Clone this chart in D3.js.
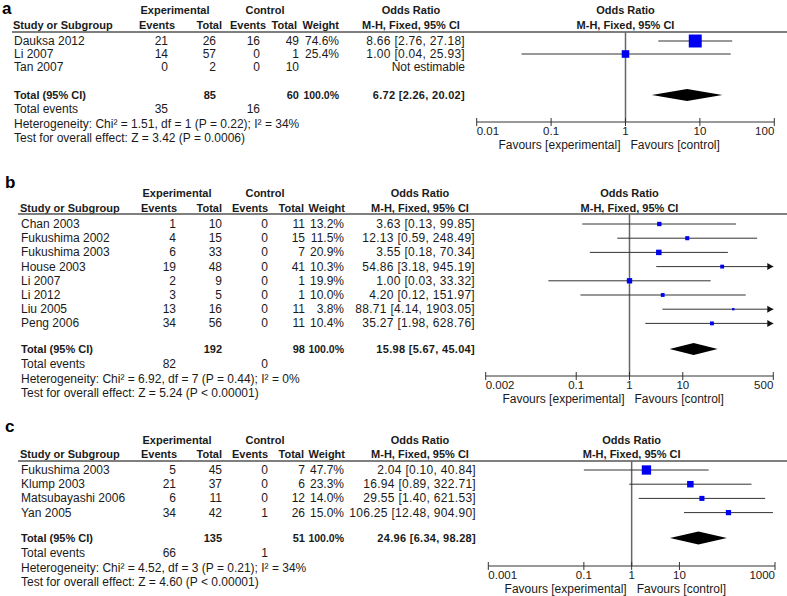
<!DOCTYPE html>
<html><head><meta charset="utf-8">
<script src="https://cdn.jsdelivr.net/npm/d3@7"></script>
<style>
body{margin:0;background:#fff}
text{font-family:"Liberation Sans",Arial,sans-serif;font-size:12px;fill:#1a1a1a}
text.b{font-weight:bold;font-size:11px}
text.or{letter-spacing:0.3px}
text.tk{font-size:11.5px}
text.pct{font-size:10.5px}
</style>
</head><body>
<svg id="chart" width="787" height="596"></svg>
<script>
// ---------- Panel a data ----------
const aStudies = ["Dauksa 2012", "Li 2007", "Tan 2007"];
const aExpEvents = [21, 14, 0];
const aExpTotal = [26, 57, 2];
const aCtrlEvents = [16, 0, 0];
const aCtrlTotal = [49, 1, 10];
const aWeight = [74.6, 25.4, null];
const aOR = [8.66, 1.00, null];
const aLow = [2.76, 0.04, null];
const aHigh = [27.18, 25.93, null];
const aPooled = [6.72, 2.26, 20.02];
const aTotals = [85, 60];
const aTotalEvents = [35, 16];
const aStats = ["Heterogeneity: Chi\u00b2 = 1.51, df = 1 (P = 0.22); I\u00b2 = 34%", "Test for overall effect: Z = 3.42 (P = 0.0006)"];
const aTicks = [0.01, 0.1, 1, 10, 100];

// ---------- Panel b data ----------
const bStudies = ["Chan 2003", "Fukushima 2002", "Fukushima 2003", "House 2003", "Li 2007", "Li 2012", "Liu 2005", "Peng 2006"];
const bExpEvents = [1, 4, 6, 19, 2, 3, 13, 34];
const bExpTotal = [10, 15, 33, 48, 9, 5, 16, 56];
const bCtrlEvents = [0, 0, 0, 0, 0, 0, 0, 0];
const bCtrlTotal = [11, 15, 7, 41, 1, 1, 11, 11];
const bWeight = [13.2, 11.5, 20.9, 10.3, 19.9, 10.0, 3.8, 10.4];
const bOR = [3.63, 12.13, 3.55, 54.86, 1.00, 4.20, 88.71, 35.27];
const bLow = [0.13, 0.59, 0.18, 3.18, 0.03, 0.12, 4.14, 1.98];
const bHigh = [99.85, 248.49, 70.34, 945.19, 33.32, 151.97, 1903.05, 628.76];
const bPooled = [15.98, 5.67, 45.04];
const bTotals = [192, 98];
const bTotalEvents = [82, 0];
const bStats = ["Heterogeneity: Chi\u00b2 = 6.92, df = 7 (P = 0.44); I\u00b2 = 0%", "Test for overall effect: Z = 5.24 (P < 0.00001)"];
const bTicks = [0.002, 0.1, 1, 10, 500];

// ---------- Panel c data ----------
const cStudies = ["Fukushima 2003", "Klump 2003", "Matsubayashi 2006", "Yan 2005"];
const cExpEvents = [5, 21, 6, 34];
const cExpTotal = [45, 37, 11, 42];
const cCtrlEvents = [0, 0, 0, 1];
const cCtrlTotal = [7, 6, 12, 26];
const cWeight = [47.7, 23.3, 14.0, 15.0];
const cOR = [2.04, 16.94, 29.55, 106.25];
const cLow = [0.10, 0.89, 1.40, 12.48];
const cHigh = [40.84, 322.71, 621.53, 904.90];
const cPooled = [24.96, 6.34, 98.28];
const cTotals = [135, 51];
const cTotalEvents = [66, 1];
const cStats = ["Heterogeneity: Chi\u00b2 = 4.52, df = 3 (P = 0.21); I\u00b2 = 34%", "Test for overall effect: Z = 4.60 (P < 0.00001)"];
const cTicks = [0.001, 0.1, 1, 10, 1000];

const headerTop = ["Experimental", "Control", "Odds Ratio"];
const headerCols = ["Study or Subgroup", "Events", "Total", "Events", "Total", "Weight", "M-H, Fixed, 95% CI"];
const favours = ["Favours [experimental]", "Favours [control]"];

const svg = d3.select("#chart");
const f2 = d3.format(".2f");

function drawPanel(label, L, D) {
  const g = svg.append("g");
  const x = d3.scaleLog().domain([D.ticks[0], D.ticks[D.ticks.length - 1]]).range([L.x0, L.x1]);
  const size = d3.scaleSqrt().domain([0, 100]).range([0, L.sqMax]);
  const rowY = i => L.row0 + i * L.step;
  const txt = (px, py, s, anchor, cls) => g.append("text")
    .attr("x", px).attr("y", py + 4).attr("text-anchor", anchor || "start")
    .attr("class", cls || null).text(s);

  g.append("text").attr("x", L.labelX).attr("y", L.labelY + 6)
    .style("font-size", "17px").style("font-weight", "bold").style("fill", "#000").text(label);

  // header row 1
  txt(L.expC, L.h1, headerTop[0], "middle", "b");
  txt(L.ctrlC, L.h1, headerTop[1], "middle", "b");
  txt(L.orC, L.h1, headerTop[2], "middle", "b");
  txt(x(1), L.h1, headerTop[2], "middle", "b");
  // header row 2
  txt(L.study, L.h2, headerCols[0], "start", "b");
  txt(L.cExpEv, L.h2, headerCols[1], "end", "b");
  txt(L.cExpTot, L.h2, headerCols[2], "end", "b");
  txt(L.cCtrlEv, L.h2, headerCols[3], "end", "b");
  txt(L.cCtrlTot, L.h2, headerCols[4], "end", "b");
  txt(L.cWeight, L.h2, headerCols[5], "end", "b");
  txt(L.orC, L.h2, headerCols[6], "middle", "b");
  txt(x(1), L.h2, headerCols[6], "middle", "b");

  g.append("line").attr("x1", L.lineX0).attr("x2", 787).attr("y1", L.line).attr("y2", L.line)
    .attr("stroke", "#555").attr("stroke-width", 1.5);

  // vertical line of no effect
  g.append("line").attr("x1", x(1)).attr("x2", x(1)).attr("y1", L.line).attr("y2", L.axisY)
    .attr("stroke", "#666").attr("stroke-width", 1.5);

  // study rows
  D.studies.forEach((s, i) => {
    const y = rowY(i);
    txt(L.study + 1, y, s);
    txt(L.nExpEv, y, D.expEv[i], "end");
    txt(L.nExpTot, y, D.expTot[i], "end");
    txt(L.nCtrlEv, y, D.ctrlEv[i], "end");
    txt(L.nCtrlTot, y, D.ctrlTot[i], "end");
    if (D.weight[i] != null) txt(L.nWeight, y, D.weight[i].toFixed(1) + "%", "end");
    if (D.or[i] != null) {
      txt(L.nOR, y, `${f2(D.or[i])} [${f2(D.lo[i])}, ${f2(D.hi[i])}]`, "end", "or");
      const [dmin, dmax] = x.domain();
      const lo = Math.max(D.lo[i], dmin), hi = Math.min(D.hi[i], dmax);
      g.append("line").attr("x1", x(lo)).attr("x2", x(hi)).attr("y1", y).attr("y2", y)
        .attr("stroke", "#333").attr("stroke-width", 1);
      if (D.hi[i] > dmax) {
        const xe = x(dmax);
        g.append("path").attr("d", `M${xe},${y} L${xe - 6},${y - 3.5} L${xe - 6},${y + 3.5} Z`).attr("fill", "#111");
      }
      if (D.lo[i] < dmin) {
        const xs = x(dmin);
        g.append("path").attr("d", `M${xs},${y} L${xs + 6},${y - 3.5} L${xs + 6},${y + 3.5} Z`).attr("fill", "#111");
      }
      const s2 = size(D.weight[i]);
      g.append("rect").attr("x", x(D.or[i]) - s2 / 2).attr("y", y - s2 / 2)
        .attr("width", s2).attr("height", s2).attr("fill", "#0000f0");
    } else {
      txt(L.nOR, y, "Not estimable", "end");
    }
  });

  // totals
  txt(L.study + 1, L.totY, "Total (95% CI)", "start", "b");
  txt(L.nExpTot, L.totY, D.totals[0], "end", "b");
  txt(L.nCtrlTot, L.totY, D.totals[1], "end", "b");
  txt(L.nWeight, L.totY, "100.0%", "end", "b pct");
  txt(L.nOR, L.totY, `${f2(D.pooled[0])} [${f2(D.pooled[1])}, ${f2(D.pooled[2])}]`, "end", "b or");
  const [po, pl, ph] = D.pooled;
  g.append("path")
    .attr("d", `M${x(pl)},${L.totY} L${x(po)},${L.totY - L.dh} L${x(ph)},${L.totY} L${x(po)},${L.totY + L.dh} Z`)
    .attr("fill", "#000");

  txt(L.study + 1, L.evY, "Total events");
  txt(L.nExpEv, L.evY, D.totalEvents[0], "end");
  txt(L.nCtrlEv, L.evY, D.totalEvents[1], "end");
  txt(L.study + 1, L.hetY, D.stats[0]);
  txt(L.study + 1, L.testY, D.stats[1]);

  // axis
  g.append("line").attr("x1", x.range()[0]).attr("x2", x.range()[1]).attr("y1", L.axisY).attr("y2", L.axisY)
    .attr("stroke", "#333").attr("stroke-width", 1);
  D.ticks.forEach((t, k) => {
    g.append("line").attr("x1", x(t)).attr("x2", x(t)).attr("y1", L.axisY - 4).attr("y2", L.axisY + 4)
      .attr("stroke", "#333").attr("stroke-width", 1);
    const anchor = k === 0 ? "start" : (k === D.ticks.length - 1 ? "end" : "middle");
    txt(x(t), L.tickY, String(t), anchor, "tk");
  });
  txt(x(1) - 5, L.favY, favours[0], "end");
  txt(x(1) + 5, L.favY, favours[1], "start");
}

drawPanel("a", {
  labelX: 2, labelY: 8, h1: 10, h2: 25, line: 32, lineX0: 12,
  study: 13, expC: 175, ctrlC: 265, orC: 411,
  cExpEv: 175, cExpTot: 222, cCtrlEv: 266, cCtrlTot: 297, cWeight: 339,
  nExpEv: 168, nExpTot: 216, nCtrlEv: 260, nCtrlTot: 299, nWeight: 339, nOR: 465,
  row0: 41, step: 13, totY: 95, evY: 109, hetY: 124, testY: 138,
  x0: 476.7, x1: 774.3, axisY: 122, tickY: 131, favY: 144.5, sqMax: 15, dh: 6
}, {studies: aStudies, expEv: aExpEvents, expTot: aExpTotal, ctrlEv: aCtrlEvents, ctrlTot: aCtrlTotal,
    weight: aWeight, or: aOR, lo: aLow, hi: aHigh, pooled: aPooled, totals: aTotals,
    totalEvents: aTotalEvents, stats: aStats, ticks: aTicks});

drawPanel("b", {
  labelX: 5, labelY: 182, h1: 193, h2: 208, line: 214, lineX0: 18,
  study: 20, expC: 177, ctrlC: 265, orC: 420,
  cExpEv: 177, cExpTot: 222, cCtrlEv: 268, cCtrlTot: 304, cWeight: 345,
  nExpEv: 176, nExpTot: 222, nCtrlEv: 268, nCtrlTot: 305, nWeight: 344, nOR: 475,
  row0: 224, step: 14.2, totY: 349, evY: 364, hetY: 379, testY: 393,
  x0: 485.7, x1: 773.3, axisY: 376, tickY: 385, favY: 399, sqMax: 12, dh: 6
}, {studies: bStudies, expEv: bExpEvents, expTot: bExpTotal, ctrlEv: bCtrlEvents, ctrlTot: bCtrlTotal,
    weight: bWeight, or: bOR, lo: bLow, hi: bHigh, pooled: bPooled, totals: bTotals,
    totalEvents: bTotalEvents, stats: bStats, ticks: bTicks});

drawPanel("c", {
  labelX: 5, labelY: 426, h1: 440, h2: 454, line: 461, lineX0: 18,
  study: 20, expC: 177, ctrlC: 265, orC: 420,
  cExpEv: 177, cExpTot: 222, cCtrlEv: 268, cCtrlTot: 304, cWeight: 345,
  nExpEv: 176, nExpTot: 222, nCtrlEv: 268, nCtrlTot: 305, nWeight: 344, nOR: 476,
  row0: 470, step: 14.2, totY: 538, evY: 553, hetY: 568, testY: 582,
  x0: 488.3, x1: 775, axisY: 566, tickY: 574.5, favY: 588.5, sqMax: 13.5, dh: 6.5
}, {studies: cStudies, expEv: cExpEvents, expTot: cExpTotal, ctrlEv: cCtrlEvents, ctrlTot: cCtrlTotal,
    weight: cWeight, or: cOR, lo: cLow, hi: cHigh, pooled: cPooled, totals: cTotals,
    totalEvents: cTotalEvents, stats: cStats, ticks: cTicks});
</script>
</body></html>
